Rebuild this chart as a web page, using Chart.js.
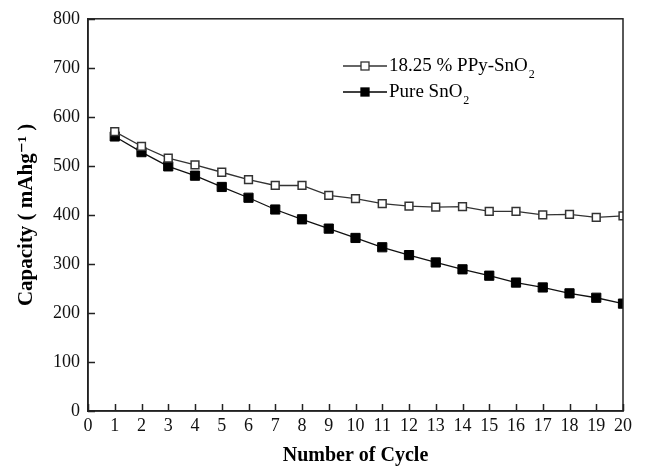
<!DOCTYPE html>
<html>
<head>
<meta charset="utf-8">
<script src="https://cdn.jsdelivr.net/npm/chart.js@4/dist/chart.umd.min.js"></script>
<style>
  html, body { margin: 0; padding: 0; background: #fff; }
  #wrap { width: 647px; height: 468px; }
</style>
</head>
<body>
<div id="wrap"><canvas id="myChart" width="647" height="468"></canvas></div>
<script>
// cycle numbers and capacities
var cycles = [1, 2, 3, 4, 5, 6, 7, 8, 9, 10, 11, 12, 13, 14, 15, 16, 17, 18, 19, 20];
var ppySnO2 = [570, 540, 516, 502, 487, 472, 460, 460, 440, 433, 423, 418, 416, 417, 407, 407, 400, 401, 395, 398];
var pureSnO2 = [560, 528, 499, 480, 457, 435, 411, 391, 372, 353, 334, 318, 303, 289, 276, 262, 252, 240, 231, 219];
var xTicks = [0, 1, 2, 3, 4, 5, 6, 7, 8, 9, 10, 11, 12, 13, 14, 15, 16, 17, 18, 19, 20];
var yTicks = [0, 100, 200, 300, 400, 500, 600, 700, 800];

var serif = "'Liberation Serif', 'DejaVu Serif', serif";

function toPoints(ys) {
  return cycles.map(function (c, i) { return { x: c, y: ys[i] }; });
}

// frame + inward ticks, like the origin-style plot
var framePlugin = {
  id: "frame",
  afterDraw: function (chart) {
    var ctx = chart.ctx, a = chart.chartArea;
    var xs = chart.scales.x, ys = chart.scales.y;
    ctx.save();
    ctx.strokeStyle = "#222";
    ctx.lineWidth = 1.5;
    ctx.strokeRect(a.left, a.top, a.right - a.left, a.bottom - a.top);
    ctx.beginPath();
    xTicks.forEach(function (v) {
      var px = Math.round(xs.getPixelForValue(v)) + 0.5;
      ctx.moveTo(px, a.bottom);
      ctx.lineTo(px, a.bottom - 7);
    });
    yTicks.forEach(function (v) {
      var py = Math.round(ys.getPixelForValue(v)) + 0.5;
      ctx.moveTo(a.left, py);
      ctx.lineTo(a.left + 7, py);
    });
    ctx.stroke();
    ctx.restore();
  }
};

// legend inside the plot, with subscript 2
var legendPlugin = {
  id: "innerLegend",
  afterDraw: function (chart) {
    var ctx = chart.ctx;
    var items = [
      { text: "18.25 % PPy-SnO", fill: "#fff", stroke: "#333", y: 66 },
      { text: "Pure SnO", fill: "#000", stroke: "#000", y: 92 }
    ];
    ctx.save();
    items.forEach(function (it) {
      var x0 = 343, x1 = 387, mx = 365;
      ctx.strokeStyle = it.stroke;
      ctx.lineWidth = 1.3;
      ctx.beginPath();
      ctx.moveTo(x0, it.y); ctx.lineTo(x1, it.y);
      ctx.stroke();
      ctx.fillStyle = it.fill;
      ctx.fillRect(mx - 4, it.y - 4, 8, 8);
      ctx.strokeRect(mx - 4, it.y - 4, 8, 8);
      ctx.fillStyle = "#000";
      ctx.font = "19px " + serif;
      ctx.textBaseline = "middle";
      ctx.textAlign = "left";
      ctx.fillText(it.text, 389, it.y);
      var w = ctx.measureText(it.text).width;
      ctx.font = "12px " + serif;
      ctx.fillText("2", 389 + w + 1, it.y + 9);
    });
    ctx.restore();
  }
};

var ctx = document.getElementById("myChart").getContext("2d");
var myChart = new Chart(ctx, {
  type: "line",
  data: {
    datasets: [
      {
        label: "18.25 % PPy-SnO2",
        data: toPoints(ppySnO2),
        borderColor: "#333",
        backgroundColor: "#fff",
        pointBorderColor: "#333",
        pointBackgroundColor: "#fff",
        borderWidth: 1.3,
        pointBorderWidth: 1.5,
        pointStyle: "rect",
        pointRadius: 5.5,
        tension: 0
      },
      {
        label: "Pure SnO2",
        data: toPoints(pureSnO2),
        borderColor: "#111",
        backgroundColor: "#000",
        pointBorderColor: "#000",
        pointBackgroundColor: "#000",
        borderWidth: 1.3,
        pointBorderWidth: 1,
        pointStyle: "rect",
        pointRadius: 6.5,
        tension: 0
      }
    ]
  },
  options: {
    responsive: false,
    animation: false,
    layout: { padding: { top: 18, right: 24, left: 0, bottom: 0 } },
    plugins: {
      legend: { display: false },
      tooltip: { enabled: false }
    },
    scales: {
      x: {
        type: "linear",
        min: 0,
        max: 20,
        afterBuildTicks: function (s) { s.ticks = xTicks.map(function (v) { return { value: v }; }); },
        afterFit: function (s) { s.height = 57; },
        grid: { display: false, drawTicks: false },
        border: { display: true, color: "#222", width: 1.5 },
        ticks: { color: "#111", font: { family: serif, size: 18 }, padding: 4, maxRotation: 0, autoSkip: false },
        title: {
          display: true,
          text: "Number of Cycle",
          color: "#000",
          font: { family: serif, size: 20, weight: "bold" },
          padding: { top: 3, bottom: 0 }
        }
      },
      y: {
        min: 0,
        max: 800,
        afterBuildTicks: function (s) { s.ticks = yTicks.map(function (v) { return { value: v }; }); },
        afterFit: function (s) { s.width = 88; },
        grid: { display: false, drawTicks: false },
        border: { display: true, color: "#222", width: 1.5 },
        ticks: { color: "#111", font: { family: serif, size: 18 }, padding: 8 },
        title: {
          display: true,
          text: "Capacity ( mAhg\u207B\u00B9 )",
          color: "#000",
          font: { family: serif, size: 21, weight: "bold" },
          padding: { top: 14, bottom: 0 }
        }
      }
    }
  },
  plugins: [framePlugin, legendPlugin]
});
</script>
</body>
</html>
